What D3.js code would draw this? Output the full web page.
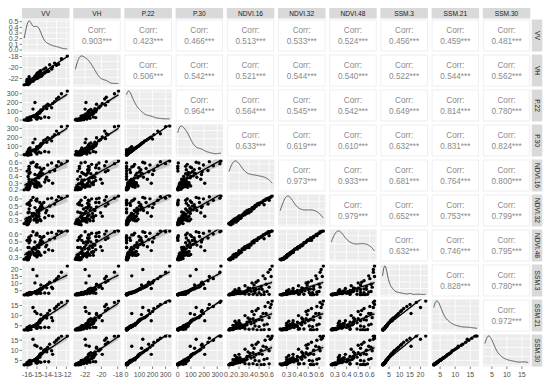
<!DOCTYPE html>
<html><head><meta charset="utf-8">
<script src="https://cdn.jsdelivr.net/npm/d3@7"></script>
<style>body{margin:0;background:#fff}svg{display:block}</style>
</head><body><svg id="c" width="550" height="388"></svg>
<script>
const varNames = ["VV","VH","P.22","P.30","NDVI.16","NDVI.32","NDVI.48","SSM.3","SSM.21","SSM.30"];

const VV = [-15.9,-16.1,-16.0,-15.9,-16.3,-15.0,-16.0,-15.7,-15.9,-15.8,
 -15.8,-14.6,-15.9,-16.0,-15.7,-15.8,-16.0,-15.6,-15.9,-14.8,
 -15.9,-15.7,-15.8,-16.0,-14.2,-15.9,-15.9,-15.5,-15.8,-15.1,
 -16.0,-15.4,-15.9,-13.8,-15.8,-15.8,-15.3,-15.0,-15.2,-14.9,
 -15.1,-14.7,-15.7,-14.8,-15.0,-14.6,-15.2,-14.9,-15.7,-14.5,
 -15.1,-14.8,-15.8,-14.7,-15.0,-15.2,-14.4,-15.1,-14.9,-15.3,
 -14.6,-15.0,-15.8,-14.7,-14.3,-13.9,-15.2,-13.5,-13.2,-12.8,
 -14.0,-12.5,-13.7,-11.9,-14.1,-13.0,-15.4,-13.4,-15.0,-14.6];
const VH = [-22.8,-23.1,-22.5,-22.9,-23.2,-21.8,-23.0,-22.8,-22.6,-22.7,
 -22.7,-21.4,-23.0,-22.9,-22.4,-22.8,-22.2,-22.5,-23.1,-21.7,
 -23.0,-22.1,-22.9,-22.6,-21.0,-22.3,-22.9,-22.4,-22.2,-22.0,
 -22.5,-22.5,-23.1,-20.7,-22.9,-22.7,-22.3,-21.4,-21.7,-21.9,
 -21.5,-21.7,-22.4,-20.9,-22.0,-21.6,-21.6,-21.0,-22.4,-21.5,
 -21.9,-21.1,-21.7,-20.7,-21.2,-22.1,-21.3,-21.6,-21.0,-22.1,
 -21.0,-21.2,-22.4,-21.5,-20.3,-20.6,-21.9,-20.3,-19.2,-19.4,
 -20.8,-18.4,-19.5,-17.9,-20.1,-19.6,-22.0,-19.9,-21.5,-20.6];
const P22 = [0,2,0,5,0,10,3,8,0,15, 0,20,4,0,12,6,25,0,9,30,
 2,18,0,7,35,14,1,40,0,22, 5,45,3,28,11,0,50,60,45,70,
 55,80,35,90,65,100,40,75,30,110, 58,85,25,95,68,48,120,52,78,38,
 105,62,20,88,150,180,200,140,210,260, 130,300,170,332,160,240,125,190,40,115];
const P30 = [2,5,0,8,3,12,6,15,45,20, 0,25,25,1,18,9,30,4,40,35,
 3,22,30,11,40,16,2,48,60,27, 7,55,5,33,35,0,58,70,52,78,
 62,92,42,100,75,110,48,85,80,125, 66,95,65,105,80,55,135,60,88,45,
 118,72,70,98,165,195,180,160,230,240, 145,320,185,328,175,270,140,205,95,128];
const NDVI16 = [.21,.23,.22,.25,.20,.27,.24,.29,.40,.23, .55,.26,.21,.48,.31,.22,.28,.60,.24,.30,
 .22,.26,.36,.21,.32,.25,.20,.35,.44,.27, .23,.30,.21,.34,.24,.52,.29,.38,.26,.42,
 .33,.45,.28,.40,.24,.47,.36,.31,.46,.50, .27,.38,.50,.53,.30,.25,.44,.55,.28,.35,
 .41,.58,.32,.26,.52,.57,.43,.60,.49,.62, .39,.59,.47,.63,.36,.56,.61,.30,.54,.45];
const NDVI32 = [.25,.29,.24,.31,.26,.28,.30,.31,.41,.29, .52,.30,.27,.53,.33,.28,.33,.58,.26,.36,
 .28,.30,.42,.25,.34,.30,.26,.40,.46,.31, .29,.36,.27,.37,.30,.55,.31,.44,.32,.43,
 .38,.47,.34,.45,.30,.50,.38,.36,.51,.52, .33,.40,.54,.55,.35,.32,.48,.58,.30,.40,
 .45,.60,.34,.32,.55,.60,.48,.61,.53,.63, .44,.61,.50,.64,.41,.58,.62,.36,.57,.49];
const NDVI48 = [.27,.30,.28,.32,.28,.31,.31,.34,.43,.30, .54,.33,.28,.52,.36,.30,.35,.58,.29,.37,
 .29,.33,.43,.27,.37,.31,.28,.41,.49,.34, .30,.37,.28,.40,.31,.56,.34,.45,.33,.46,
 .41,.49,.35,.46,.33,.52,.41,.38,.52,.55, .35,.43,.55,.57,.37,.34,.50,.59,.33,.43,
 .47,.61,.37,.34,.57,.61,.50,.62,.55,.64, .46,.63,.53,.64,.44,.60,.63,.39,.59,.52];
const SSM3 = [2.1,2.4,2.2,2.6,1.9,2.8,2.3,3.0,2.5,2.7, 2.2,3.2,2.6,2.0,2.9,2.7,3.1,2.4,2.5,3.4,
 2.3,3.0,2.6,2.2,3.3,2.8,2.0,3.6,2.5,3.1, 2.4,3.5,2.3,3.2,2.7,2.1,3.8,4.2,3.6,4.5,
 4.0,5.0,3.4,5.5,4.1,5.8,3.9,4.8,3.7,6.2, 4.3,5.2,3.5,6.0,4.6,3.9,6.8,4.1,4.8,3.8,
 6.5,4.4,3.3,5.6,8.0,9.5,10.5,7.5,12.0,15.0, 7.0,18.0,11.0,22.5,8.5,13.5,20.0,6.5,15.5,9.0];
const SSM21 = [3.0,3.2,3.4,3.5,2.9,3.7,3.1,3.9,3.3,3.6, 3.1,4.0,3.5,3.0,3.8,3.4,4.2,3.2,3.3,4.4,
 3.1,3.9,3.5,3.0,4.3,3.7,2.9,4.6,3.4,4.1, 3.2,4.8,3.1,4.2,3.6,3.0,5.0,5.5,4.8,6.0,
 5.3,6.5,4.5,7.0,5.2,7.5,5.1,6.2,4.9,8.0, 5.6,6.8,4.6,7.8,6.0,5.0,8.5,5.4,6.3,5.0,
 8.2,5.8,4.4,7.2,9.5,11.0,12.0,9.0,13.5,15.5, 8.8,16.5,12.5,17.2,10.0,14.5,14.0,7.5,11.0,10.5];
const SSM30 = [2.8,3.1,3.3,3.4,2.7,3.6,3.0,3.8,3.2,3.7, 3.0,4.1,3.3,2.9,3.9,3.5,4.0,3.3,3.2,4.3,
 3.1,4.0,3.4,2.9,4.4,3.6,2.8,4.7,3.4,4.0, 3.2,4.9,3.0,4.3,3.5,2.9,5.1,5.6,4.9,6.2,
 5.4,6.6,4.6,7.1,5.3,7.8,5.0,6.3,5.0,8.3, 5.7,6.9,4.7,8.0,6.1,5.2,8.8,5.5,6.5,5.1,
 8.4,5.9,4.5,7.4,10.0,11.5,12.5,9.8,14.0,16.0, 9.2,17.0,13.0,17.1,10.5,15.0,15.5,8.0,12.0,11.0];

// correlation labels (upper triangle, row by row)
const corrRows = [
 ["0.903","0.423","0.466","0.513","0.533","0.524","0.456","0.459","0.481"],
 ["0.506","0.542","0.521","0.544","0.540","0.522","0.544","0.562"],
 ["0.964","0.564","0.545","0.542","0.649","0.814","0.780"],
 ["0.633","0.619","0.610","0.632","0.831","0.824"],
 ["0.973","0.933","0.681","0.764","0.800"],
 ["0.979","0.652","0.753","0.799"],
 ["0.632","0.746","0.795"],
 ["0.828","0.780"],
 ["0.972"]
];

const tickVals = [
 [-16,-15,-14,-13,-12],
 [-22,-20,-18],
 [0,100,200,300],
 [0,100,200,300],
 [0.2,0.3,0.4,0.5,0.6],
 [0.3,0.4,0.5,0.6],
 [0.3,0.4,0.5,0.6],
 [5,10,15,20],
 [5,10,15],
 [5,10,15]
];
const densTicks = [0,0.1,0.2,0.3,0.4,0.5];

const data = [VV,VH,P22,P30,NDVI16,NDVI32,NDVI48,SSM3,SSM21,SSM30];
const N = varNames.length;

const L=22, T=19.5, PW=47.5, PH=32, SX=51.2, SY=35;
const FONT = "Liberation Sans, Arial, sans-serif";
const svg = d3.select("#c");
const defs = svg.append("defs");

function fmt(i,v){ return (i>=4 && i<=6) ? d3.format(".1f")(v) : String(v); }
function expand(ext){ const s=(ext[1]-ext[0])||1; return [ext[0]-0.05*s, ext[1]+0.05*s]; }

const xs = data.map((d,j)=>d3.scaleLinear().domain(expand(d3.extent(d))).range([L+j*SX, L+j*SX+PW]));
const ys = data.map((d,i)=>d3.scaleLinear().domain(expand(d3.extent(d))).range([T+i*SY+PH, T+i*SY]));

function bw(x){
  const s=d3.deviation(x); const so=x.slice().sort(d3.ascending);
  const iqr=d3.quantile(so,.75)-d3.quantile(so,.25);
  let lo=Math.min(s, iqr/1.34); if(!(lo>0)) lo=s;
  return 0.9*lo*Math.pow(x.length,-0.2);
}
function kde(x){
  const h=bw(x); const [a,b]=d3.extent(x);
  return d3.range(151).map(k=>{const p=a+(b-a)*k/150;
    return [p, d3.mean(x,v=>Math.exp(-0.5*((p-v)/h)**2))/(h*Math.sqrt(2*Math.PI))];});
}
function minors(t, dom){
  const st=t[1]-t[0]; const out=[];
  for(let v=t[0]-st/2; v<=dom[1]; v+=st){ if(v>=dom[0]) out.push(v); }
  return out;
}
function grid(g, xsc, xt, ysc, yt){
  const [x0,x1]=xsc.range(), [y1,y0]=ysc.range();
  g.append("rect").attr("x",x0).attr("y",y0).attr("width",x1-x0).attr("height",y1-y0).attr("fill","#ebebeb");
  const xd=xsc.domain(), yd=ysc.domain();
  minors(xt,xd).forEach(v=>g.append("line").attr("x1",xsc(v)).attr("x2",xsc(v)).attr("y1",y0).attr("y2",y1).attr("stroke","#f6f6f6").attr("stroke-width",0.4));
  minors(yt,yd).forEach(v=>g.append("line").attr("y1",ysc(v)).attr("y2",ysc(v)).attr("x1",x0).attr("x2",x1).attr("stroke","#f6f6f6").attr("stroke-width",0.4));
  xt.filter(v=>v>=xd[0]&&v<=xd[1]).forEach(v=>g.append("line").attr("x1",xsc(v)).attr("x2",xsc(v)).attr("y1",y0).attr("y2",y1).attr("stroke","#fff").attr("stroke-width",0.8));
  yt.filter(v=>v>=yd[0]&&v<=yd[1]).forEach(v=>g.append("line").attr("y1",ysc(v)).attr("y2",ysc(v)).attr("x1",x0).attr("x2",x1).attr("stroke","#fff").attr("stroke-width",0.8));
}

const densScales = [];
for(let i=0;i<N;i++){
  for(let j=0;j<N;j++){
    const g=svg.append("g");
    const x0=L+j*SX, y0=T+i*SY;
    const cid="cp"+i+"_"+j;
    defs.append("clipPath").attr("id",cid).append("rect").attr("x",x0).attr("y",y0).attr("width",PW).attr("height",PH);
    if(i===j){
      const dens=kde(data[i]);
      const dmax=d3.max(dens,d=>d[1]);
      const dy=d3.scaleLinear().domain([-0.05*dmax, dmax*1.05]).range([y0+PH,y0]);
      densScales[i]=dy;
      const dt = i===0 ? densTicks : dy.ticks(4);
      grid(g, xs[j], tickVals[j], dy, dt);
      g.append("path").attr("clip-path","url(#"+cid+")").datum(dens)
        .attr("d",d3.line().x(d=>xs[j](d[0])).y(d=>dy(d[1])))
        .attr("fill","none").attr("stroke","#333").attr("stroke-width",0.8);
    } else if(i>j){
      grid(g, xs[j], tickVals[j], ys[i], tickVals[i]);
      const X=data[j], Y=data[i], n=X.length;
      const mx=d3.mean(X), my=d3.mean(Y);
      let sxx=0,sxy=0; for(let k=0;k<n;k++){sxx+=(X[k]-mx)**2; sxy+=(X[k]-mx)*(Y[k]-my);}
      const b=sxy/sxx, a=my-b*mx;
      let ss=0; for(let k=0;k<n;k++){ss+=(Y[k]-a-b*X[k])**2;}
      const s=Math.sqrt(ss/(n-2)), tq=1.99;
      const [ea,eb]=d3.extent(X);
      const pts=d3.range(41).map(k=>{const xv=ea+(eb-ea)*k/40; const yv=a+b*xv;
        const se=s*Math.sqrt(1/n+(xv-mx)**2/sxx); return {x:xv,y:yv,lo:yv-tq*se,hi:yv+tq*se};});
      const cg=g.append("g").attr("clip-path","url(#"+cid+")");
      cg.append("path").datum(pts).attr("d",d3.area().x(d=>xs[j](d.x)).y0(d=>ys[i](d.lo)).y1(d=>ys[i](d.hi)))
        .attr("fill","#999").attr("opacity",0.45);
      cg.selectAll("circle").data(d3.range(n)).enter().append("circle")
        .attr("cx",k=>xs[j](X[k])).attr("cy",k=>ys[i](Y[k])).attr("r",1.7).attr("fill","#000");
      cg.append("path").datum(pts).attr("d",d3.line().x(d=>xs[j](d.x)).y(d=>ys[i](d.y)))
        .attr("fill","none").attr("stroke","#000").attr("stroke-width",1.3);
    } else {
      g.append("rect").attr("x",x0+0.5).attr("y",y0+0.5).attr("width",PW-1).attr("height",PH-1)
        .attr("fill","#fff").attr("stroke","#ececec").attr("stroke-width",0.8);
      const cx=x0+PW/2, cy=y0+PH/2;
      g.append("text").attr("x",cx).attr("y",cy-2.5).attr("text-anchor","middle")
        .attr("font-family",FONT).attr("font-size",8.2).attr("fill","#8a8a8a").text("Corr:");
      g.append("text").attr("x",cx).attr("y",cy+8.5).attr("text-anchor","middle")
        .attr("font-family",FONT).attr("font-size",8.2).attr("fill","#8a8a8a").text(corrRows[i][j-i-1]+"***");
    }
  }
}

varNames.forEach((nm,j)=>{
  const x0=L+j*SX;
  svg.append("rect").attr("x",x0).attr("y",8).attr("width",PW).attr("height",10.5).attr("fill","#d9d9d9");
  svg.append("text").attr("x",x0+PW/2).attr("y",15.8).attr("text-anchor","middle")
    .attr("font-family",FONT).attr("font-size",6.6).attr("fill","#1a1a1a").text(nm);
});
varNames.forEach((nm,i)=>{
  const y0=T+i*SY;
  svg.append("rect").attr("x",531.8).attr("y",y0).attr("width",10.5).attr("height",PH).attr("fill","#d9d9d9");
  svg.append("text").attr("transform","translate(534.8,"+(y0+PH/2)+") rotate(90)").attr("text-anchor","middle")
    .attr("font-family",FONT).attr("font-size",6.6).attr("fill","#1a1a1a").text(nm);
});

for(let i=0;i<N;i++){
  const sc = i===0 ? densScales[0] : ys[i];
  const tv = i===0 ? densTicks : tickVals[i];
  const dom=sc.domain();
  tv.filter(v=>v>=dom[0]&&v<=dom[1]).forEach(v=>{
    const y=sc(v);
    svg.append("line").attr("x1",L-2.5).attr("x2",L).attr("y1",y).attr("y2",y).attr("stroke","#333").attr("stroke-width",0.6);
    svg.append("text").attr("x",L-3.5).attr("y",y).attr("dy","0.35em").attr("text-anchor","end")
      .attr("font-family",FONT).attr("font-size",7).attr("fill","#4d4d4d")
      .text(i===0 ? d3.format(".1f")(v) : fmt(i,v));
  });
}
const by=T+(N-1)*SY+PH;
for(let j=0;j<N;j++){
  const sc=xs[j], dom=sc.domain();
  tickVals[j].filter(v=>v>=dom[0]&&v<=dom[1]).forEach(v=>{
    const x=sc(v);
    svg.append("line").attr("x1",x).attr("x2",x).attr("y1",by).attr("y2",by+2.5).attr("stroke","#333").attr("stroke-width",0.6);
    svg.append("text").attr("x",x).attr("y",by+10.5).attr("text-anchor","middle")
      .attr("font-family",FONT).attr("font-size",7).attr("fill","#4d4d4d").text(fmt(j,v));
  });
}
</script></body></html>
